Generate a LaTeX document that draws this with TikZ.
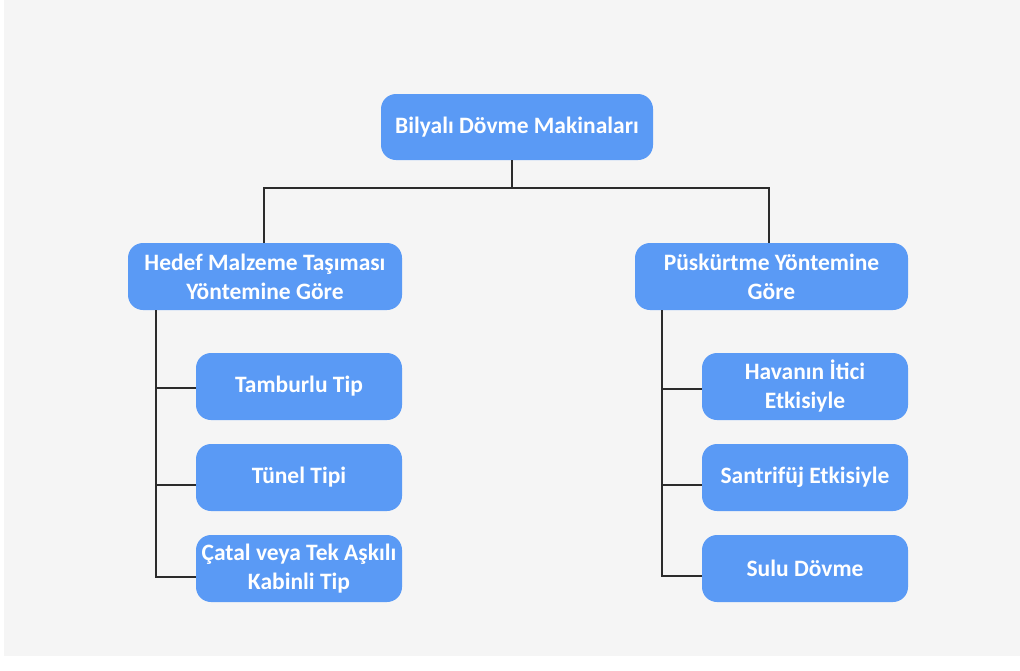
\documentclass[tikz,border=0pt]{standalone}
\usepackage{fontspec}
\setmainfont{Carlito}
\definecolor{boxblue}{HTML}{5A9AF5}
\definecolor{bggray}{HTML}{F5F5F5}
\definecolor{linecol}{HTML}{2B2B2B}
\begin{document}
\begin{tikzpicture}[x=1pt,y=-1pt,
  box/.style={draw=none, fill=boxblue, rounded corners=15pt, text=white,
    font=\bfseries\fontsize{23.5}{29}\selectfont, align=center, inner sep=0pt},
  conn/.style={draw=linecol, line width=2pt}]
\useasboundingbox (0,0) rectangle (1020,670);
\fill[white] (0,0) rectangle (1020,670);
\fill[bggray] (4,0) rectangle (1020,656);
% nodes
\node[box, minimum width=272pt, minimum height=66pt] (root) at (517,127) {Bilyalı Dövme Makinaları};
\node[box, minimum width=274pt, minimum height=67pt] (hl) at (265,276.5) {Hedef Malzeme Taşıması\\Yöntemine Göre};
\node[box, minimum width=273pt, minimum height=67pt] (hr) at (771.5,276.5) {Püskürtme Yöntemine\\Göre};
\node[box, minimum width=206pt, minimum height=67pt] (l1) at (299,386.5) {Tamburlu Tip};
\node[box, minimum width=206pt, minimum height=67pt] (l2) at (299,477.5) {Tünel Tipi};
\node[box, minimum width=206pt, minimum height=67pt] (l3) at (299,568.5) {Çatal veya Tek Aşkılı\\Kabinli Tip};
\node[box, minimum width=206pt, minimum height=67pt] (r1) at (805,386.5) {Havanın İtici\\Etkisiyle};
\node[box, minimum width=206pt, minimum height=67pt] (r2) at (805,477.5) {Santrifüj Etkisiyle};
\node[box, minimum width=206pt, minimum height=67pt] (r3) at (805,568.5) {Sulu Dövme};
% connectors
\coordinate (rs) at ([xshift=-5pt]root.south);
\coordinate (bus) at (512,188);
\draw[conn] (rs) -- (bus);
\draw[conn] ([xshift=-1pt]hl.north) |- (bus) -| ([xshift=-2.5pt]hr.north);
\coordinate (lb) at (156,310);
\coordinate (rb) at (662,310);
\draw[conn] (lb) |- ([yshift=-1.5pt]l1.west);
\draw[conn] (lb) |- ([yshift=-7.5pt]l2.west);
\draw[conn] (lb) |- ([yshift=-8.5pt]l3.west);
\draw[conn] (rb) |- ([yshift=-2.5pt]r1.west);
\draw[conn] (rb) |- ([yshift=-7.5pt]r2.west);
\draw[conn] (rb) |- ([yshift=-7.5pt]r3.west);
\end{tikzpicture}
\end{document}
